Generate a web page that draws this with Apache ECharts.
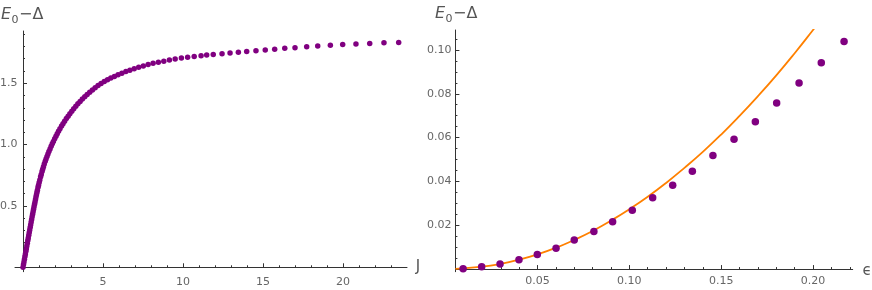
<!DOCTYPE html>
<html><head><meta charset="utf-8">
<script src="https://cdn.jsdelivr.net/npm/echarts@6/dist/echarts.min.js"></script>
<style>html,body{margin:0;padding:0;background:#fff}#c{width:872px;height:290px}</style>
</head><body><div id="c"></div>
<script>
// ---- Left panel: E0 - Delta versus J ----
const leftJ = [0, 0.03, 0.06, 0.09, 0.12, 0.15, 0.18, 0.21, 0.24, 0.27, 0.30, 0.33, 0.36, 0.39, 0.42, 0.45, 0.48, 0.51, 0.54, 0.57, 0.60, 0.63, 0.66, 0.69, 0.72, 0.75, 0.78,
  0.81, 0.84, 0.87, 0.90, 0.94, 0.97, 1.01, 1.05, 1.10, 1.14, 1.19, 1.23, 1.28, 1.33, 1.39, 1.44, 1.50,
  1.56, 1.62, 1.69, 1.76, 1.83, 1.90, 1.98, 2.06, 2.14, 2.22, 2.31, 2.41, 2.50, 2.60, 2.71, 2.82, 2.93, 3.05, 3.17, 3.30,
  3.43, 3.57, 3.71, 3.86, 4.01, 4.17, 4.34, 4.51, 4.69, 4.88, 5.08, 5.28, 5.49, 5.71, 5.94, 6.18, 6.43, 6.68, 6.95, 7.23,
  7.52, 7.82, 8.13, 8.46, 8.80, 9.15, 9.51, 9.90, 10.29, 10.70,
  11.13, 11.48, 11.89, 12.44, 12.94, 13.46, 13.98, 14.56, 15.14, 15.73, 16.36, 17.00, 17.73, 18.42, 19.21, 19.98, 20.81, 21.67, 22.56, 23.48];
const leftE = [0.000, 0.022, 0.044, 0.065, 0.087, 0.109, 0.131, 0.152, 0.174, 0.196, 0.218, 0.239, 0.261, 0.283, 0.304, 0.326, 0.347, 0.369, 0.390, 0.411, 0.432, 0.453, 0.474, 0.494, 0.514, 0.533, 0.552,
  0.572, 0.591, 0.610, 0.628, 0.652, 0.669, 0.691, 0.712, 0.738, 0.757, 0.781, 0.799, 0.820, 0.841, 0.864, 0.883, 0.904,
  0.924, 0.943, 0.965, 0.986, 1.006, 1.026, 1.048, 1.069, 1.089, 1.108, 1.129, 1.151, 1.170, 1.191, 1.212, 1.232, 1.252, 1.272, 1.292, 1.312,
  1.332, 1.352, 1.371, 1.390, 1.408, 1.427, 1.446, 1.464, 1.482, 1.499, 1.514, 1.528, 1.542, 1.556, 1.569, 1.582, 1.595, 1.607, 1.619, 1.630,
  1.641, 1.652, 1.663, 1.671, 1.680, 1.689, 1.698, 1.706, 1.713, 1.719,
  1.725, 1.730, 1.734, 1.740, 1.747, 1.753, 1.759, 1.766, 1.771, 1.778, 1.785, 1.790, 1.797, 1.804, 1.809, 1.815, 1.821, 1.825, 1.830, 1.833];

// ---- Right panel: E0 - Delta versus epsilon ----
const rightEps = [0.0095, 0.0196, 0.0296, 0.0399, 0.0499, 0.0601, 0.0700, 0.0807, 0.0909, 0.1016, 0.1127, 0.1236, 0.1343, 0.1455, 0.1570, 0.1686, 0.1802, 0.1924, 0.2045, 0.2169];
const rightE = [0.0001, 0.0011, 0.0023, 0.0043, 0.0066, 0.0095, 0.0133, 0.0171, 0.0216, 0.0268, 0.0326, 0.0382, 0.0446, 0.0518, 0.0593, 0.0672, 0.0758, 0.0849, 0.0941, 0.1039];
const curveEps = [0.0053, 0.02, 0.03, 0.04, 0.05, 0.06, 0.07, 0.08, 0.09, 0.10, 0.11, 0.12, 0.13, 0.14, 0.15, 0.16, 0.17, 0.18, 0.19, 0.20, 0.203];
const curveE = [0.0001, 0.0011, 0.0024, 0.0043, 0.0067, 0.0097, 0.0133, 0.0174, 0.0221, 0.0273, 0.0330, 0.0393, 0.0462, 0.0535, 0.0614, 0.0699, 0.0789, 0.0884, 0.0985, 0.1091, 0.1124];

// ---- Tick labels ----
const leftXTicks = [5, 10, 15, 20];
const leftYTicks = [0.5, 1.0, 1.5];
const rightXTicks = [0.05, 0.10, 0.15, 0.20];
const rightYTicks = [0.02, 0.04, 0.06, 0.08, 0.10];
const leftXMinor = [1, 2, 3, 4, 6, 7, 8, 9, 11, 12, 13, 14, 16, 17, 18, 19, 21, 22, 23];
const leftYMinor = [0.1, 0.2, 0.3, 0.4, 0.6, 0.7, 0.8, 0.9, 1.1, 1.2, 1.3, 1.4, 1.6, 1.7, 1.8, 1.9];
const rightXMinor = [0.01, 0.02, 0.03, 0.04, 0.06, 0.07, 0.08, 0.09, 0.11, 0.12, 0.13, 0.14, 0.16, 0.17, 0.18, 0.19, 0.21, 0.22];
const rightYMinor = [0.005, 0.010, 0.015, 0.025, 0.030, 0.035, 0.045, 0.050, 0.055, 0.065, 0.070, 0.075, 0.085, 0.090, 0.095, 0.105];

const FONT = 'DejaVu Sans';
const AX = '#333';
const LBL = '#666';
const PURPLE = '#800080';
const ORANGE = '#ff8000';

const leftRange = {x: [-0.5, 24], y: [-0.036, 1.926]};
const rightRange = {x: [0.0053, 0.2216], y: [-0.0012, 0.1091]};

function mainAxis(grid, range, ticks, dec, margin) {
  return {
    type: 'value', gridIndex: grid, min: range[0], max: range[1],
    axisLine: {show: true, onZero: true, lineStyle: {color: AX, width: 1}},
    axisTick: {show: true, inside: true, length: 4, customValues: ticks, lineStyle: {color: AX, width: 1}},
    axisLabel: {show: true, customValues: ticks, color: LBL, fontSize: 11, fontFamily: FONT, margin: margin,
      formatter: v => dec === 0 ? String(Math.round(v)) : Number(v).toFixed(dec)},
    splitLine: {show: false}, minorTick: {show: false}
  };
}
function minorAxis(grid, range, ticks) {
  return {
    type: 'value', gridIndex: grid, min: range[0], max: range[1],
    axisLine: {show: false, onZero: true},
    axisTick: {show: true, inside: true, length: 2, customValues: ticks, lineStyle: {color: AX, width: 1}},
    axisLabel: {show: false}, splitLine: {show: false}
  };
}

const g0 = {left: 15, top: 31, width: 392, height: 240.7};
const g1 = {left: 455.4, top: 30, width: 397.3, height: 241.7};
function gridOf(g) { return Object.assign({containLabel: false, outerBoundsMode: 'none'}, g); }

function titleTexts(x0, yc) {
  return [
    {type: 'text', x: x0, y: yc, style: {text: 'E', fontSize: 16, fontStyle: 'italic', fontFamily: FONT, fill: '#555', verticalAlign: 'middle'}},
    {type: 'text', x: x0 + 10.5, y: yc + 5, style: {text: '0', fontSize: 11, fontFamily: FONT, fill: '#555', verticalAlign: 'middle'}},
    {type: 'text', x: x0 + 18, y: yc, style: {text: '\u2212\u0394', fontSize: 16, fontFamily: FONT, fill: '#555', verticalAlign: 'middle'}}
  ];
}

const chart = echarts.init(document.getElementById('c'), null, {renderer: 'canvas'});
chart.setOption({
  animation: false,
  backgroundColor: '#fff',
  grid: [gridOf(g0), gridOf(g1), gridOf(g0), gridOf(g1)],
  xAxis: [
    mainAxis(0, leftRange.x, leftXTicks, 0, 5),
    mainAxis(1, rightRange.x, rightXTicks, 2, 4),
    minorAxis(2, leftRange.x, leftXMinor),
    minorAxis(3, rightRange.x, rightXMinor)
  ],
  yAxis: [
    mainAxis(0, leftRange.y, leftYTicks, 1, -2.5),
    mainAxis(1, rightRange.y, rightYTicks, 2, 4),
    minorAxis(2, leftRange.y, leftYMinor),
    minorAxis(3, rightRange.y, rightYMinor)
  ],
  series: [
    {type: 'scatter', xAxisIndex: 0, yAxisIndex: 0, symbol: 'circle', symbolSize: 5.5, clip: false,
      itemStyle: {color: PURPLE, opacity: 1}, data: leftJ.map((j, i) => [j, leftE[i]]), z: 3},
    {type: 'line', xAxisIndex: 1, yAxisIndex: 1, smooth: true, showSymbol: false, clip: true,
      lineStyle: {color: ORANGE, width: 1.8}, data: curveEps.map((e, i) => [e, curveE[i]]), z: 2},
    {type: 'scatter', xAxisIndex: 1, yAxisIndex: 1, symbol: 'circle', symbolSize: 7.5, clip: false,
      itemStyle: {color: PURPLE, opacity: 1}, data: rightEps.map((e, i) => [e, rightE[i]]), z: 3}
  ],
  graphic: [
    ...titleTexts(1, 15),
    ...titleTexts(435, 14),
    {type: 'text', x: 418, y: 267.5, style: {text: 'J', fontSize: 15, fontFamily: FONT, fill: '#555', align: 'center', verticalAlign: 'middle'}},
    {type: 'text', x: 867, y: 271, style: {text: '\u03F5', fontSize: 15, fontFamily: FONT, fill: '#555', align: 'center', verticalAlign: 'middle'}}
  ]
});
</script>
</body></html>
